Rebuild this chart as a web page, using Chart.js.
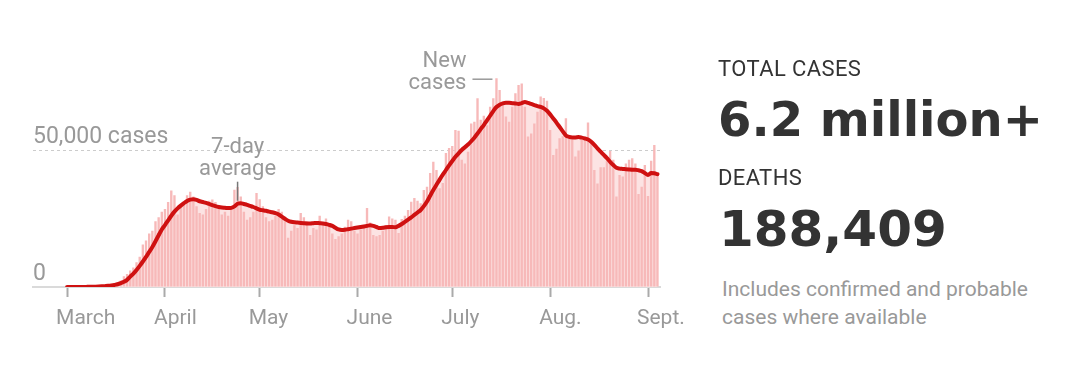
<!DOCTYPE html>
<html>
<head>
    <meta charset="UTF-8">
    <title>Coronavirus in the U.S.: new cases</title>
    <script src="https://cdn.jsdelivr.net/npm/chart.js@4.4.1/dist/chart.umd.min.js"></script>
    <style>
        body { margin: 0; background: #fff; }
        #wrap { position: relative; width: 1080px; height: 369px; overflow: hidden; }
        #chartBox { position: absolute; left: 0; top: 0; width: 720px; height: 369px; }
        .txt { position: absolute; left: 718px; white-space: nowrap; color: #333; }
        .label { font: 22px/26px Roboto, sans-serif; letter-spacing: 0.4px; }
        .big { font: bold 48px/48px "DejaVu Sans", sans-serif; }
        .note { font: 21px/28px Roboto, sans-serif; color: #999; left: 722px; }
    </style>
</head>
<body>
<div id="wrap">
    <div id="chartBox"><canvas id="casesChart"></canvas></div>
    <div class="txt label" style="top:56px">TOTAL CASES</div>
    <div class="txt big" style="top:95px">6.2 million+</div>
    <div class="txt label" style="top:165px">DEATHS</div>
    <div class="txt big" style="top:205px; font-size:50px; left:719px">188,409</div>
    <div class="txt note" style="top:275px">Includes confirmed and probable<br>cases where available</div>
</div>

<script>
    // days counted from March 1, 2020
    var monthLabels = ['March', 'April', 'May', 'June', 'July', 'Aug.', 'Sept.'];
    var monthStarts = [0, 31, 61, 92, 122, 153, 184];
    var yTicks = [0, 50000];
    var yTickLabels = ['0', '50,000 cases'];

    // new cases per day, Mar. 1 - Sept. 4
    var dailyCases = [
        8, 12, 20, 28, 55, 75, 100, 110, 150, 240, 310, 450, 560, 680, 740, 1100,
        1700, 2400, 3900, 4700, 6000, 7100, 9000, 11000, 15500, 17000, 19500, 20500, 24000, 25500, 27500,
        // April
        28500, 31000, 35200, 33500, 26500, 29500, 31000, 33500, 34800, 33000, 29500, 27000, 26500, 28500, 31500,
        31900, 31000, 28500, 26500, 27500, 26000, 28500, 35500, 36500, 33000, 27500, 24500, 25500, 27500, 34300,
        // May
        32000, 29500, 25500, 24000, 24500, 26000, 28500, 27500, 25000, 18000, 20500, 22500, 21500, 27000, 25500, 24000,
        19000, 21500, 21000, 26000, 23500, 25000, 22500, 19500, 17500, 18500, 19500, 22000, 24500, 24000, 20500,
        // June
        19500, 21000, 21500, 28800, 23500, 19000, 18500, 19000, 20500, 22500, 25700, 25000, 24500, 19700, 24800,
        26000, 28100, 31100, 32500, 31500, 30600, 35400, 36600, 41600, 45700, 42700, 36000, 38000, 48900, 50700,
        // July
        51500, 57300, 57000, 46400, 45100, 49400, 59700, 60300, 68900, 61000, 62500, 59000, 65800, 68900, 76200, 71900,
        67000, 62200, 60300, 65800, 70700, 73700, 74300, 65800, 54900, 56000, 59700, 64000, 69500, 69000, 68000,
        // August
        57300, 48200, 50500, 54300, 55000, 61600, 54300, 53700, 47600, 49800, 53700, 54500, 60000, 53700, 42700, 37800,
        43700, 43700, 46000, 49600, 46400, 33000, 40900, 40300, 45100, 46400, 47000, 45100, 33900, 36600, 44500,
        // September
        33200, 46100, 51800, 41500
    ];

    // 7-day average, as drawn
    var avgCases = [
        5, 6, 8, 12, 20, 30, 45, 60, 80, 110, 160, 230, 320, 420, 560, 750,
        1000, 1400, 1900, 2600, 3800, 4900, 6200, 7700, 9300, 11000, 12800, 14600, 16700, 18900, 21000,
        22600, 24300, 26000, 27500, 28700, 29700, 30600, 31400, 31900, 32000, 31800, 31300, 31000, 30700, 30300,
        29900, 29500, 29200, 29000, 28900, 28800, 28900, 29400, 30400, 30600, 30300, 30000, 29600, 29200, 28700,
        28200, 28000, 27800, 27500, 27300, 27000, 26500, 25700, 24900, 24200, 23800, 23600, 23500, 23400, 23300, 23200,
        23200, 23300, 23400, 23300, 23200, 23000, 22700, 22300, 21600, 21000, 20800, 20900, 21100, 21300, 21500,
        21700, 21900, 22100, 22300, 22500, 22300, 21900, 21500, 21600, 21800, 21900, 21900, 21800, 22300, 23000,
        23800, 24600, 25400, 26300, 27200, 28100, 29500, 31200, 33300, 35400, 37300, 39200, 41000, 42700, 44400,
        46000, 47500, 48800, 50000, 51000, 52000, 53200, 54500, 56000, 57600, 59100, 60800, 62500, 64200, 65700, 66500,
        67000, 67200, 67200, 67100, 67000, 66800, 67100, 67500, 67200, 66800, 66400, 66000, 65700, 65200, 64300,
        63000, 61500, 60000, 58400, 56800, 55300, 54800, 54600, 54600, 54700, 54500, 54200, 53800, 53000, 51900, 50600,
        49400, 48200, 47000, 45700, 44500, 43500, 43200, 43100, 43000, 42900, 42800, 42800, 42600, 42300, 41600,
        40900, 41600, 41500, 41200
    ];

    var avgNoteDay = 54;   // "7-day average" label points here
    var barNoteDay = 136;  // "New cases" label points at this bar

    var grey = '#999';
    Chart.defaults.font.family = 'Roboto, sans-serif';

    var notesPlugin = {
        id: 'notes',
        afterDatasetsDraw: function(chart) {
            var ctx = chart.ctx, x = chart.scales.x, y = chart.scales.y;
            ctx.save();
            ctx.font = '22px Roboto';
            ctx.fillStyle = grey;
            ctx.strokeStyle = '#777';
            ctx.lineWidth = 1.5;
            ctx.textBaseline = 'middle';

            // 7-day average
            var ax = x.getPixelForValue(avgNoteDay);
            var ay = y.getPixelForValue(avgCases[avgNoteDay]) - 3;
            ctx.beginPath();
            ctx.moveTo(ax, ay);
            ctx.lineTo(ax, ay - 19);
            ctx.stroke();
            ctx.textAlign = 'center';
            ctx.fillText('average', ax, ay - 31);
            ctx.fillText('7-day', ax, ay - 53);

            // new cases
            var bx = x.getPixelForValue(barNoteDay);
            var by = y.getPixelForValue(dailyCases[barNoteDay]);
            ctx.strokeStyle = grey;
            ctx.beginPath();
            ctx.moveTo(bx - 24, by + 1);
            ctx.lineTo(bx - 4, by + 1);
            ctx.stroke();
            ctx.textAlign = 'right';
            ctx.fillText('cases', bx - 30, by + 5);
            ctx.fillText('New', bx - 30, by - 17);
            ctx.restore();
        }
    };

    new Chart('casesChart', {
        type: 'bar',
        data: {
            datasets: [{
                type: 'line',
                data: avgCases.map(function(v, i) { return {x: i, y: v}; }),
                borderColor: '#cf1111',
                borderWidth: 4,
                borderCapStyle: 'round',
                borderJoinStyle: 'round',
                backgroundColor: '#fce3e3',
                fill: 'origin',
                pointRadius: 0,
                cubicInterpolationMode: 'monotone',
                order: 0
            }, {
                data: dailyCases.map(function(v, i) { return {x: i, y: v}; }),
                backgroundColor: '#f7b9b9',
                categoryPercentage: 1,
                barPercentage: 0.75,
                order: 1
            }]
        },
        options: {
            responsive: true,
            maintainAspectRatio: false,
            devicePixelRatio: 1,
            animation: false,
            layout: { padding: { top: 40.4, right: 60, bottom: 0, left: 0 } },
            plugins: {
                legend: { display: false },
                tooltip: { enabled: false },
                filler: { drawTime: 'beforeDatasetsDraw' }
            },
            scales: {
                x: {
                    type: 'linear',
                    min: -10.8,
                    max: 187.8,
                    offset: false,
                    afterBuildTicks: function(s) {
                        s.ticks = monthStarts.map(function(v) { return {value: v}; });
                    },
                    afterFit: function(s) { s.height = 82; },
                    border: { display: true, color: '#dadada', width: 2 },
                    grid: { offset: false, drawOnChartArea: false, drawTicks: true, tickLength: 10, tickColor: '#aaa', tickWidth: 2 },
                    ticks: {
                        autoSkip: false,
                        maxRotation: 0,
                        align: 'start',
                        labelOffset: -11,
                        padding: 9,
                        color: grey,
                        font: { size: 21 },
                        callback: function(value) {
                            return monthLabels[monthStarts.indexOf(value)];
                        }
                    }
                },
                y: {
                    min: 0,
                    max: 90000,
                    afterBuildTicks: function(s) {
                        s.ticks = yTicks.map(function(v) { return {value: v}; });
                    },
                    afterFit: function(s) { s.width = 33; },
                    border: { display: false, dash: [3, 3] },
                    grid: {
                        drawTicks: false,
                        color: function(c) { return c.tick && c.tick.value === yTicks[1] ? '#ccc' : 'rgba(0,0,0,0)'; }
                    },
                    ticks: {
                        autoSkip: false,
                        mirror: true,
                        padding: 0,
                        labelOffset: -13,
                        color: grey,
                        font: { size: 23 },
                        callback: function(v) {
                            return yTickLabels[yTicks.indexOf(v)];
                        }
                    }
                }
            }
        },
        plugins: [notesPlugin]
    });
</script>
</body>
</html>
